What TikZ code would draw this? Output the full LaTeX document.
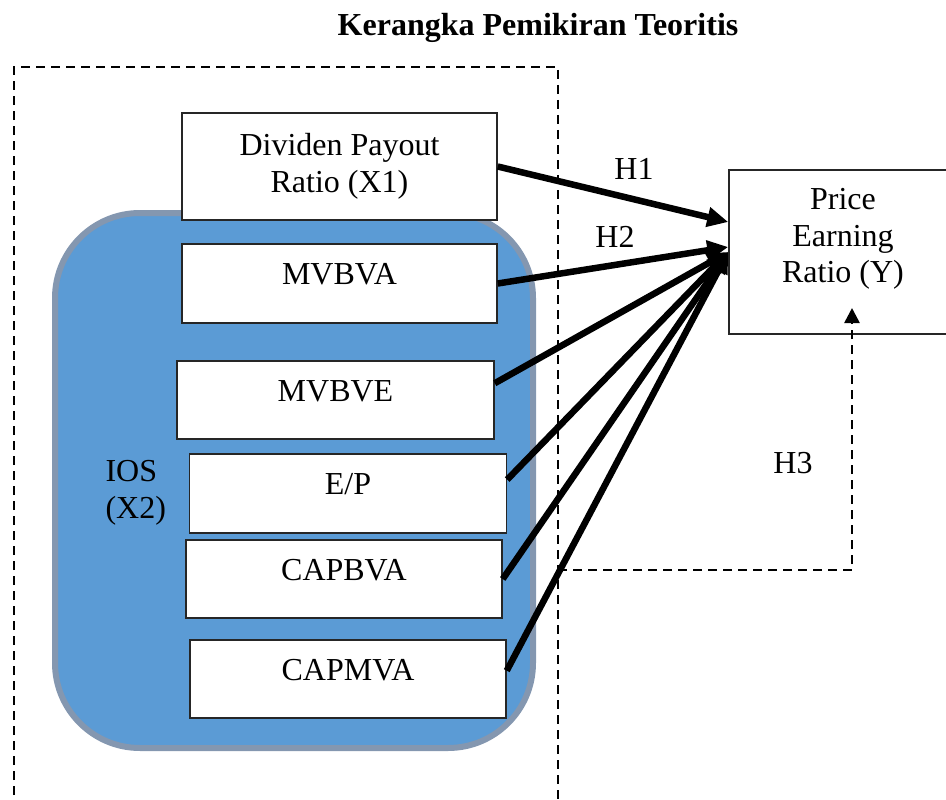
\documentclass[tikz,border=0pt]{standalone}
\usepackage{fontspec}
\setmainfont{Liberation Serif}
\usetikzlibrary{arrows.meta}

\definecolor{iosfill}{RGB}{91,155,213}
\definecolor{iosline}{RGB}{132,151,176}

\tikzset{
    varbox/.style={draw=black!85,line width=1.5pt,fill=white,inner sep=0pt},
    toptext/.style={text height=22pt,text depth=20pt},
    thickarrow/.style={line width=6.5pt,-{Triangle[length=21pt,width=19pt]}},
    dashline/.style={line width=2.6pt,dash pattern=on 9pt off 6pt},
}

\begin{document}
\begin{tikzpicture}[x=1pt,y=-1pt,font=\fontsize{32}{36.5}\selectfont]
    \useasboundingbox (0,0) rectangle (946,800);
    \clip (0,0) rectangle (946,800);

    \node[anchor=base,font=\fontsize{32}{36.5}\selectfont\bfseries] (title) at (538,36) {Kerangka Pemikiran Teoritis};

    % IOS group
    \draw[fill=iosfill,draw=iosline,line width=6pt,rounded corners=85pt] (55,213) rectangle (533,748);
    \node[anchor=west,align=left] (ios) at (102,493) {IOS\\(X2)};

    \node[varbox,align=center,minimum width=315pt,minimum height=107pt] (dpr) at (339.5,166.5) {Dividen Payout\\Ratio (X1)};
    \node[varbox,toptext,minimum width=315pt,minimum height=79pt] (mvbva) at (339.5,283.5) {MVBVA};
    \node[varbox,toptext,minimum width=317pt,minimum height=78pt] (mvbve) at (335.5,400) {MVBVE};
    \node[varbox,toptext,minimum width=317pt,minimum height=79pt] (ep) at (348,493.5) {E/P};
    \node[varbox,toptext,minimum width=316pt,minimum height=78pt] (capbva) at (344,579) {CAPBVA};
    \node[varbox,toptext,minimum width=316pt,minimum height=78pt] (capmva) at (348,679) {CAPMVA};

    \node[varbox,minimum width=228pt,minimum height=164pt] (per) at (843,252) {};
    \node[align=center] (pertxt) at (843,239) {Price\\Earning\\Ratio (Y)};

    % frame round the independent variables
    \draw[dashline] (14,810) -- (14,67) -- (558,67) -- (558,810);

    \draw[thickarrow] (dpr.east) -- ([yshift=30pt]per.west);
    \draw[thickarrow] (mvbva.east) -- ([yshift=5pt]per.west);
    \foreach \src/\ang in {mvbve/6.5,ep/5.2,capbva/0,capmva/3.3}
        \draw[thickarrow] (\src.\ang) -- (per.west);

    \node[anchor=base] (h1) at (634,179) {H1};
    \node[anchor=base] (h2) at (615,247) {H2};

    % moderating path
    \coordinate (h3start) at (558,570);
    \coordinate (h3end) at (852,308);
    \draw[dashline,-{Triangle[length=15pt,width=15pt]}] (h3start) -| (h3end);
    \node[anchor=base] (h3) at (793,473) {H3};
\end{tikzpicture}
\end{document}
